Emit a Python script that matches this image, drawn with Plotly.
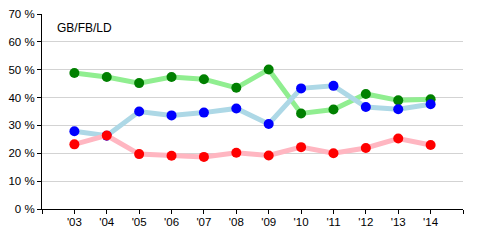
import plotly.graph_objects as go

years = ["'03", "'04", "'05", "'06", "'07", "'08", "'09", "'10", "'11", "'12", "'13", "'14"]
gb = [48.8, 47.4, 45.2, 47.4, 46.6, 43.5, 50.1, 34.3, 35.7, 41.3, 39.0, 39.4]
fb = [27.9, 26.3, 35.0, 33.6, 34.6, 36.1, 30.5, 43.3, 44.2, 36.6, 35.8, 37.6]
ld = [23.2, 26.4, 19.7, 19.1, 18.7, 20.2, 19.2, 22.2, 20.0, 21.9, 25.3, 23.0]
y_ticks = [0, 10, 20, 30, 40, 50, 60, 70]

xs = list(range(len(years)))

fig = go.Figure()
series = [
    ("GB", gb, "#90ee90", "#008000"),
    ("FB", fb, "#add8e6", "#0000ff"),
    ("LD", ld, "#ffb6c1", "#ff0000"),
]
for name, vals, lc, mc in series:
    fig.add_trace(go.Scatter(
        x=xs, y=vals, mode="lines+markers", name=name,
        line=dict(color=lc, width=5),
        marker=dict(color=mc, size=10),
        cliponaxis=False, showlegend=False,
    ))

font = dict(family="Liberation Sans, Arial, sans-serif", size=11.5, color="#000000")

fig.update_layout(
    width=490, height=245,
    margin=dict(l=41, r=27, t=8, b=36),
    plot_bgcolor="white", paper_bgcolor="white",
    font=font,
    xaxis=dict(
        range=[-1, 12],
        tickvals=list(range(-1, 13)),
        ticktext=[""] + years + [""],
        showgrid=False, zeroline=False,
        showline=True, linecolor="black", linewidth=1,
        ticks="outside", ticklen=4, tickcolor="black", tickwidth=1,
        ticklabelstandoff=-2,
        tickfont=font,
    ),
    yaxis=dict(
        range=[0, 70],
        tickvals=y_ticks,
        ticktext=[f"{v} %" for v in y_ticks],
        showgrid=True, gridcolor="#d3d3d3", gridwidth=1,
        zeroline=False,
        showline=True, linecolor="black", linewidth=1,
        ticks="outside", ticklen=4, tickcolor="black", tickwidth=1,
        tickfont=font,
    ),
    annotations=[dict(
        text="GB/FB/LD", xref="paper", yref="paper",
        x=(54 - 41) / 422, y=1 - (22 - 8) / 201,
        xanchor="left", yanchor="middle", showarrow=False,
        font=dict(family="Liberation Sans, Arial, sans-serif", size=12, color="#000000"),
    )],
)

fig.write_html("out.html")
